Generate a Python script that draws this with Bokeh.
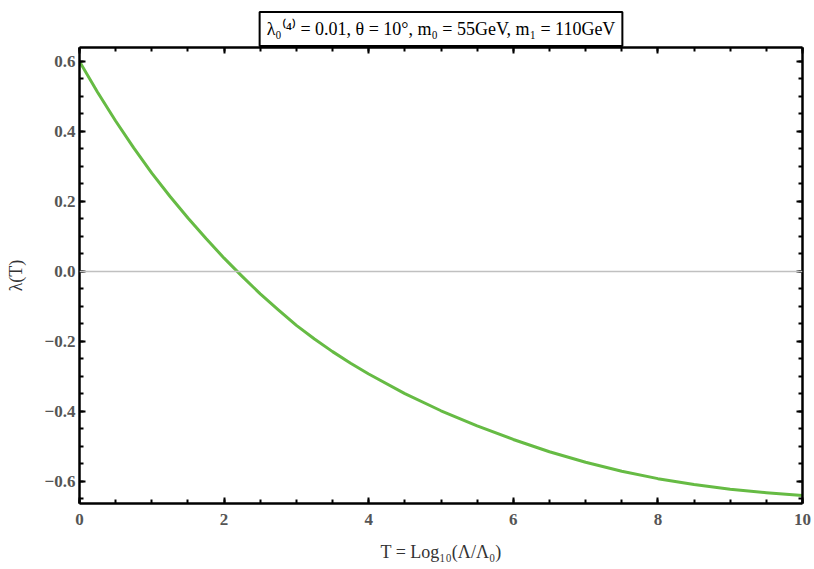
from bokeh.plotting import figure
from bokeh.models import (LinearAxis, SingleIntervalTicker, Span, Range1d, Title,
                          CustomJSTickFormatter, ColumnDataSource)
from bokeh.embed import file_html
from bokeh.resources import INLINE

# Data
T_vals = [0.0, 0.25, 0.5, 0.75, 1.0, 1.25, 1.5, 1.75, 2.0, 2.25, 2.5, 2.75, 3.0, 3.25, 3.5, 3.75,
          4.0, 4.5, 5.0, 5.5, 6.0, 6.5, 7.0, 7.5, 8.0, 8.5, 9.0, 9.5, 10.0]
lambda_vals = [0.600, 0.512, 0.430, 0.353, 0.281, 0.215, 0.153, 0.094, 0.038, -0.014, -0.064,
               -0.110, -0.154, -0.193, -0.229, -0.262, -0.293, -0.349, -0.398,
               -0.441, -0.480, -0.515, -0.545, -0.571, -0.592, -0.609, -0.622, -0.632, -0.640]
title_text = "λ₀⁽⁴⁾ = 0.01, θ = 10°, m₀ = 55GeV, m₁ = 110GeV"
x_label = "T = Log₁₀(Λ/Λ₀)"
y_label = "λ(T)"

FONT = "Liberation Serif"

p = figure(width=814, height=569, output_backend="svg", toolbar_location=None,
           x_range=Range1d(0, 10), y_range=Range1d(-0.663, 0.64),
           min_border_left=79, min_border_right=12, min_border_top=47, min_border_bottom=66)
p.title = Title(text=title_text, align="center", text_font=FONT, text_font_size="18px",
                text_font_style="normal", text_color="black",
                border_line_color="black", border_line_width=2,
                background_fill_color="white", padding=7, standoff=3)
p.xgrid.visible = False
p.ygrid.visible = False
p.outline_line_color = None

src = ColumnDataSource(dict(x=T_vals, y=lambda_vals))
p.add_layout(Span(location=0, dimension="width", line_color="#c0c0c0", line_width=1.5))
p.line("x", "y", source=src, line_color="#66bb44", line_width=3, line_join="round")

fmt = CustomJSTickFormatter(code="return tick.toFixed(1).replace('-', '\u2212');")
xfmt = CustomJSTickFormatter(code="return tick.toFixed(0);")
blank = CustomJSTickFormatter(code="return '';")

def style(ax, show_labels):
    ax.axis_line_color = "black"
    ax.axis_line_width = 2.5
    ax.major_tick_in = 6
    ax.major_tick_out = 0
    ax.minor_tick_in = 4
    ax.minor_tick_out = 0
    ax.major_tick_line_width = 2
    ax.minor_tick_line_width = 2
    ax.major_tick_line_color = "black"
    ax.minor_tick_line_color = "black"
    if show_labels:
        ax.major_label_text_font = FONT
        ax.major_label_text_font_size = "17px"
        ax.major_label_text_color = "#555555"
        ax.major_label_text_font_style = "bold"
        ax.axis_label_text_font = FONT
        ax.axis_label_text_font_size = "18px"
        ax.axis_label_text_font_style = "normal"
        ax.axis_label_text_color = "#333333"
    else:
        ax.formatter = blank
        ax.major_label_standoff = 0

p.xaxis.ticker = SingleIntervalTicker(interval=2, num_minor_ticks=4)
p.yaxis.ticker = SingleIntervalTicker(interval=0.2, num_minor_ticks=4)
p.xaxis.formatter = xfmt
p.yaxis.formatter = fmt
p.xaxis.axis_label = x_label
p.yaxis.axis_label = y_label
p.xaxis.major_label_standoff = 10
p.xaxis.axis_label_standoff = 14
p.yaxis.major_label_standoff = 4
p.yaxis.axis_label_standoff = 16
style(p.xaxis[0], True)
style(p.yaxis[0], True)

top = LinearAxis(ticker=SingleIntervalTicker(interval=2, num_minor_ticks=4))
right = LinearAxis(ticker=SingleIntervalTicker(interval=0.2, num_minor_ticks=4))
style(top, False)
style(right, False)
p.add_layout(top, "above")
p.add_layout(right, "right")

open("out.html", "w").write(file_html(p, INLINE))
